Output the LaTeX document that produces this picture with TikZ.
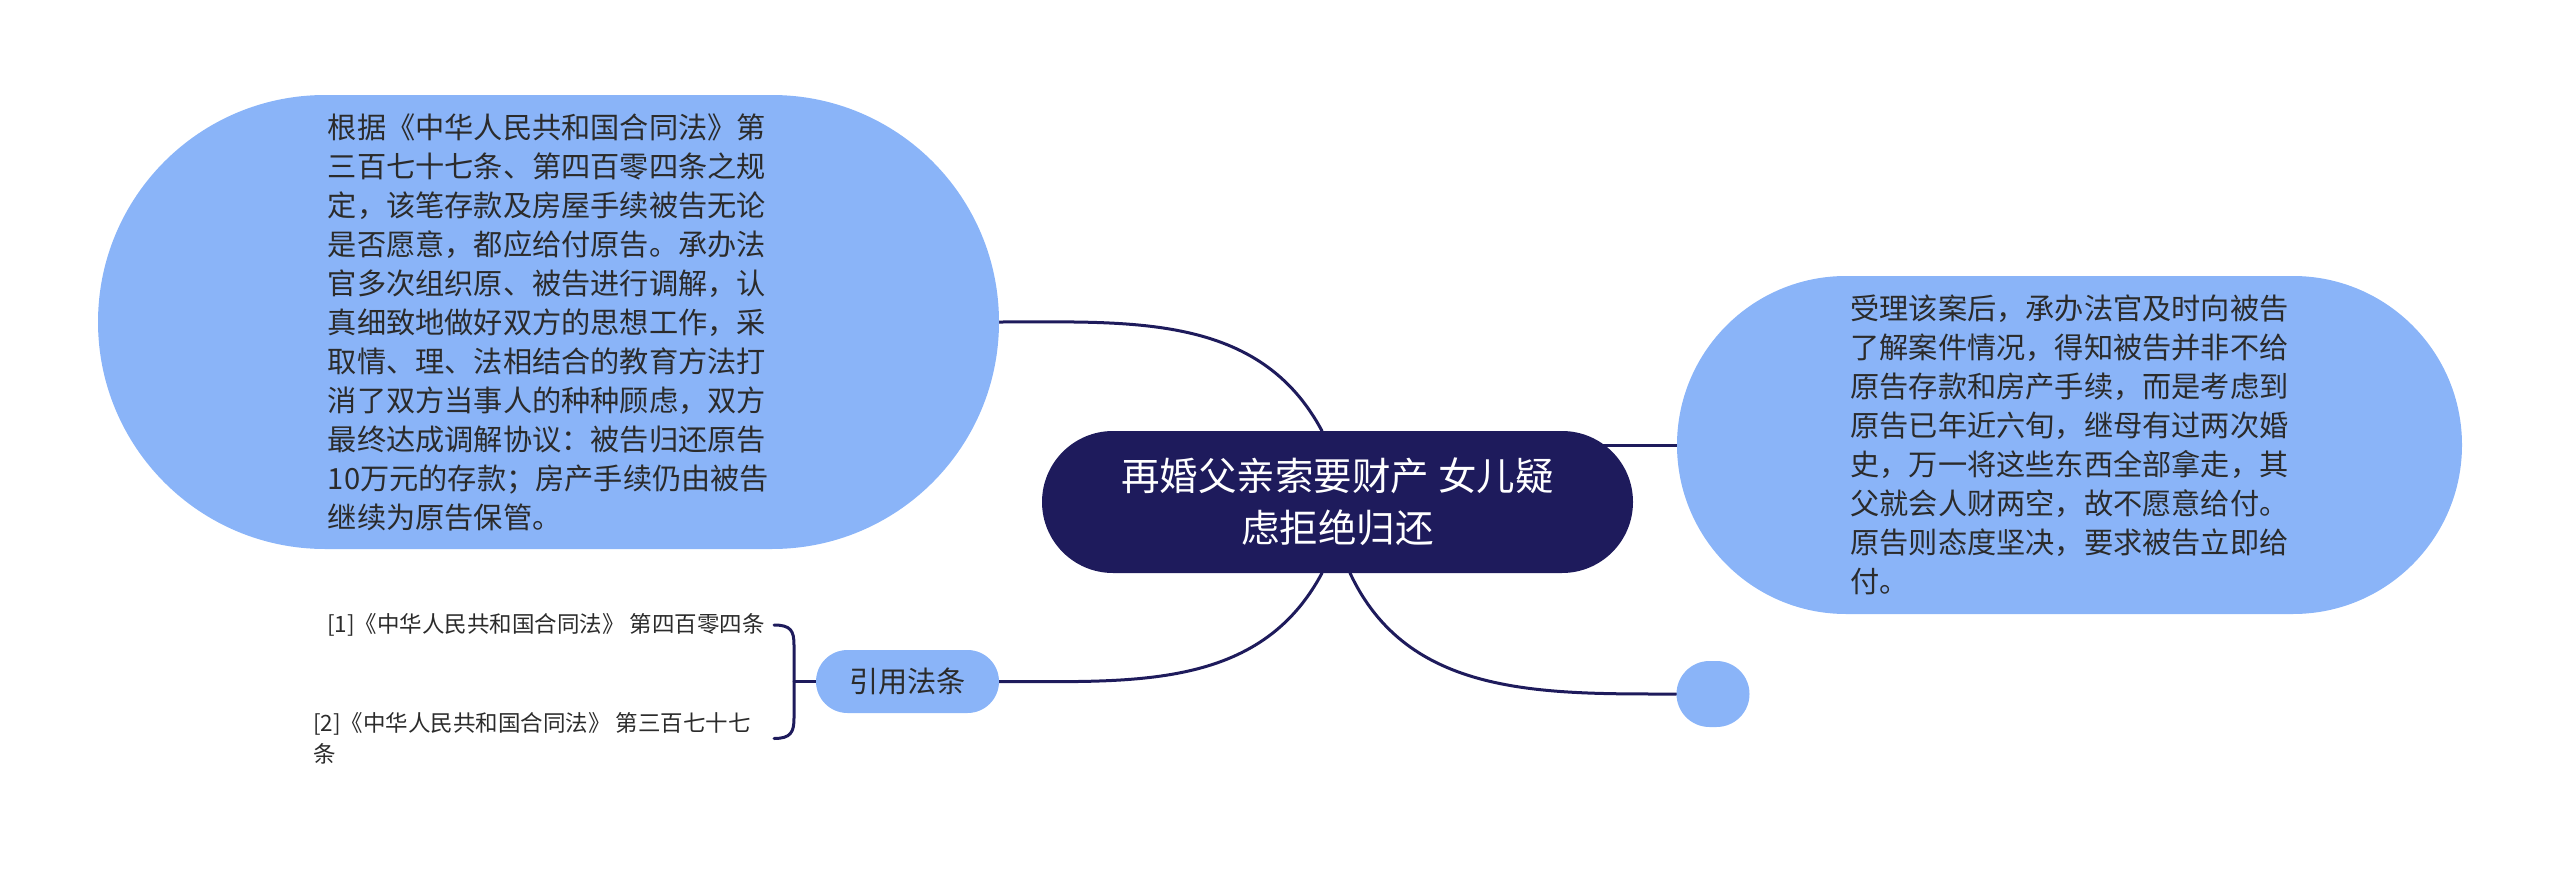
\documentclass[tikz,border=0pt]{standalone}
\usepackage{fontspec}
\setmainfont{Noto Sans CJK SC}
\usetikzlibrary{backgrounds}
\definecolor{navy}{HTML}{1E1B5C}
\definecolor{lblue}{HTML}{8AB4F8}
\definecolor{txt}{HTML}{2B2B2B}
\begin{document}
\begin{tikzpicture}[x=1pt,y=-1pt,
  bubble/.style={fill=lblue, text=txt, inner sep=0pt},
  bodyfont/.style={font=\fontsize{29.2}{39}\selectfont},
  leaffont/.style={font=\fontsize{22.5}{31}\selectfont},
  conn/.style={draw=navy, line width=3pt, line cap=round}]
\useasboundingbox (0,0) rectangle (2560,875);

\node[fill=navy, text=white, inner sep=0pt, minimum width=591pt, minimum height=142pt,
  rounded corners=71pt, align=center, font=\fontsize{38.5}{52}\selectfont]
  (C) at (1337.5,502) {再婚父亲索要财产 女儿疑\\虑拒绝归还};

\node[bubble, bodyfont, minimum width=901pt, minimum height=454pt, rounded corners=227pt, align=left]
  (L) at (548.5,322) {根据《中华人民共和国合同法》第\\三百七十七条、第四百零四条之规\\定，该笔存款及房屋手续被告无论\\是否愿意，都应给付原告。承办法\\官多次组织原、被告进行调解，认\\真细致地做好双方的思想工作，采\\取情、理、法相结合的教育方法打\\消了双方当事人的种种顾虑，双方\\最终达成调解协议：被告归还原告\\10万元的存款；房产手续仍由被告\\继续为原告保管。};

\node[bubble, bodyfont, minimum width=785pt, minimum height=338pt, rounded corners=169pt, align=left]
  (R) at (2069.5,445) {受理该案后，承办法官及时向被告\\了解案件情况，得知被告并非不给\\原告存款和房产手续，而是考虑到\\原告已年近六旬，继母有过两次婚\\史，万一将这些东西全部拿走，其\\父就会人财两空，故不愿意给付。\\原告则态度坚决，要求被告立即给\\付。};

\node[bubble, bodyfont, minimum width=183pt, minimum height=63pt, rounded corners=31.5pt]
  (F) at (907.5,681.5) {引用法条};

\node[bubble, minimum width=73pt, minimum height=66pt, rounded corners=33pt]
  (S) at (1713,694) {};

\node[leaffont, text=txt, inner sep=0pt, anchor=west] (l1) at (327,625)
  {[1]《中华人民共和国合同法》 第四百零四条};
\node[leaffont, text=txt, inner sep=0pt, anchor=west, align=left] (l2) at (313,738.5)
  {[2]《中华人民共和国合同法》 第三百七十七\\条};

\coordinate (cT) at (1322,431);
\coordinate (cB1) at (1322,573);
\coordinate (cB2) at (1350,573);
\coordinate (b1) at (774,625);
\coordinate (b2) at (774,738.5);
\coordinate (bm) at (794,681.5);

\begin{pgfonlayer}{background}
\draw[conn] (L.east) to[out=0,in=118] (cT);
\draw[conn] (R.west) -- (R.west -| C.center);
\draw[conn] (F.east) to[out=0,in=-118] (cB1);
\draw[conn] (cB2) to[out=-65,in=180] (S.west);
\draw[conn] (b1) .. controls (791,625) and (794,631) .. (794,645) -- (794,718) .. controls (794,732) and (791,738.5) .. (b2);
\draw[conn] (bm) -- (F.west);
\end{pgfonlayer}
\end{tikzpicture}
\end{document}
